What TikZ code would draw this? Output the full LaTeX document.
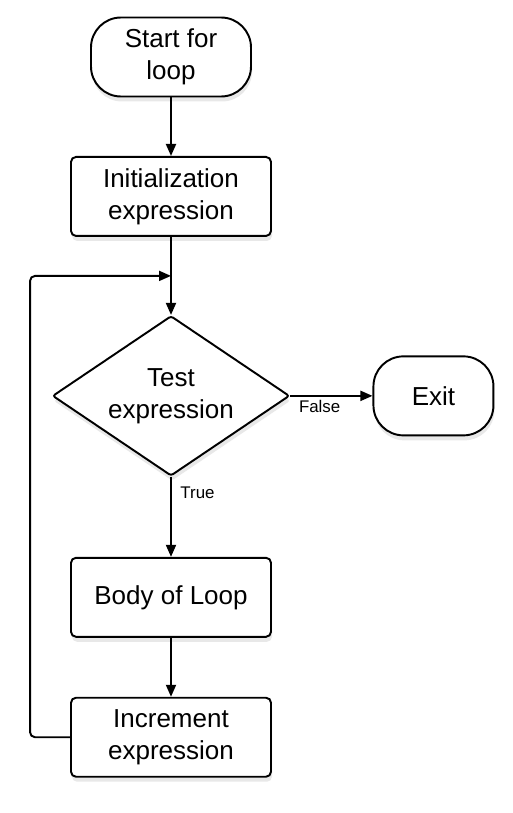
\documentclass[tikz,border=0pt]{standalone}
\usepackage{fontspec}
\setmainfont{Liberation Sans}
\usepackage{tikz}
\usetikzlibrary{shapes, arrows.meta, positioning, calc, shadows}

\begin{document}
\begin{tikzpicture}[node distance=1.2cm, line width=1.1pt, >={Triangle[length=0.24cm, width=0.2cm]},
  soft/.style={drop shadow={shadow xshift=0.02cm, shadow yshift=-0.1cm, opacity=0.18}},
  stepbox/.style={rectangle, draw, fill=white, soft, rounded corners=0.1cm, minimum width=4cm, minimum height=1.58cm, align=center, font=\fontsize{14.8}{18.2}\selectfont},
  terminal/.style={rectangle, draw, fill=white, soft, rounded corners=0.6cm, minimum height=1.58cm, align=center, font=\fontsize{14.8}{18.2}\selectfont},
  decision/.style={diamond, aspect=1.5, draw, fill=white, soft, rounded corners=0.05cm, inner sep=0pt, minimum width=4.74cm, minimum height=3.2cm, align=center, font=\fontsize{14.8}{18.2}\selectfont},
  tag/.style={font=\fontsize{9.6}{11}\selectfont, inner sep=2pt}]
\useasboundingbox (0,0) rectangle (10.24,-16.26);

\node (start) [terminal, minimum width=3.2cm] at (3.42,-1.14) {Start for\\loop};
\node (init) [stepbox, below=1.17cm of start] {Initialization\\expression};
\node (test) [decision, below=1.56cm of init] {Test\\expression};
\node (exit) [terminal, minimum width=2.4cm, right=1.64cm of test] {Exit};
\node (body) [stepbox, below=1.6cm of test] {Body of Loop};
\node (inc) [stepbox, below=1.18cm of body] {Increment\\expression};

\coordinate (join) at ($(init.south)!0.5!(test.north)$);

\draw [->] (start) -- (init);
\draw [->] (init) -- (test);
\draw [->] (test) -- node[tag, anchor=north west, pos=0.05] {False} (exit);
\draw [->] (test) -- node[tag, anchor=west, pos=0.2, xshift=0.1cm] {True} (body);
\draw [->] (body) -- (inc);
\draw [->, rounded corners=0.1cm] (inc.west) -- ++(-0.8,0) |- (join);
\end{tikzpicture}
\end{document}
